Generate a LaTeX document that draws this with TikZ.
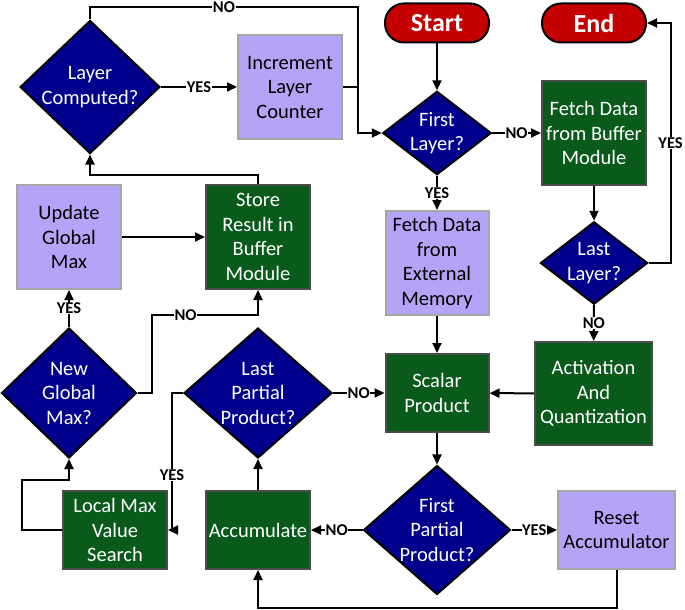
\documentclass[tikz,border=0pt]{standalone}
\usepackage{fontspec}
\setmainfont{Carlito}
\usetikzlibrary{shapes.geometric,arrows.meta}
\definecolor{navy}{RGB}{0,0,140}
\definecolor{leaf}{RGB}{10,90,28}
\definecolor{lilac}{RGB}{180,163,246}
\definecolor{brick}{RGB}{196,0,0}
\tikzset{%
  decision/.style = {shape=diamond, draw=black, fill=navy, text=white,%
                     align=center, inner sep=0pt},%
  greenbox/.style = {shape=rectangle, draw=black!70, fill=leaf, text=white,%
                     align=center, inner sep=2pt},%
  lilacbox/.style = {shape=rectangle, draw=black!35, fill=lilac,%
                     align=center, inner sep=2pt},%
  terminal/.style = {shape=rectangle, rounded corners=19pt, draw=black,%
                     fill=brick, text=white, minimum width=104pt,%
                     minimum height=39pt, font=\fontsize{26}{28}\selectfont\bfseries},%
  lbl/.style      = {fill=white, inner sep=0.5pt, font=\fontsize{16.5}{17}\selectfont\bfseries}%
}
\begin{document}
\begin{tikzpicture}[x=1pt,y=-1pt,line width=2pt,
		every node/.style = {font=\fontsize{20.5}{24.5}\selectfont},
		flow/.style = {-{Triangle[length=10pt,width=9pt]}}]
		\useasboundingbox (0,0) rectangle (685,610);
		\node [terminal] (start) at (437,23) {Start};
		\node [terminal] (end) at (594,23) {End};
		\node [decision, minimum width=136pt, minimum height=129pt, aspect=1.05] (lc) at (90,87) {Layer\\Computed?};
		\node [lilacbox, minimum width=104pt, minimum height=104pt] (inc) at (290,87) {Increment\\Layer\\Counter};
		\node [decision, minimum width=103pt, minimum height=79pt, aspect=1.3] (first) at (437,133) {First\\Layer?};
		\node [greenbox, minimum width=104pt, minimum height=104pt] (fetchbuf) at (594,133) {Fetch Data\\from Buffer\\Module};
		\node [lilacbox, minimum width=104pt, minimum height=104pt] (update) at (69,237) {Update\\Global\\Max};
		\node [greenbox, minimum width=104pt, minimum height=104pt] (store) at (258,237) {Store\\Result in\\Buffer\\Module};
		\node [lilacbox, minimum width=103pt, minimum height=104pt] (fetchext) at (437,263) {Fetch Data\\from\\External\\Memory};
		\node [decision, minimum width=103pt, minimum height=78pt, aspect=1.3] (last) at (594,263) {Last\\Layer?};
		\node [decision, minimum width=135pt, minimum height=130pt, aspect=1.04] (ngm) at (69,393) {New\\Global\\Max?};
		\node [decision, minimum width=148pt, minimum height=130pt, aspect=1.14] (lpp) at (258,393) {Last\\Partial\\Product?};
		\node [greenbox, minimum width=103pt, minimum height=78pt] (scalar) at (437,393) {Scalar\\Product};
		\node [greenbox, minimum width=117pt, minimum height=103pt] (act) at (593.5,393.5) {Activation\\And\\Quantization};
		\node [greenbox, minimum width=104pt, minimum height=78pt] (local) at (115,530) {Local Max\\Value\\Search};
		\node [greenbox, minimum width=104pt, minimum height=78pt] (acc) at (258,530) {Accumulate};
		\node [decision, minimum width=147pt, minimum height=129pt, aspect=1.14] (fpp) at (437,530) {First\\Partial\\Product?};
		\node [lilacbox, minimum width=117pt, minimum height=78pt] (reset) at (616.5,530) {Reset\\Accumulator};
		\draw[flow] (start) -- (first);
		\draw[flow] (first) -- node [lbl] {NO} (fetchbuf);
		\draw[flow] (fetchbuf) -- (last);
		\draw[flow] (last.east) -- ++(22,0) |- node [lbl, pos=0.25] {YES} (end.east);
		\draw[flow] (last) -- node [lbl] {NO} (act);
		\draw[flow] (act) -- (scalar);
		\draw[flow] (first) -- node [lbl] {YES} (fetchext);
		\draw[flow] (fetchext) -- (scalar);
		\draw[flow] (scalar) -- (fpp);
		\draw[flow] (fpp) -- node [lbl] {YES} (reset);
		\draw[flow] (fpp) -- node [lbl] {NO} (acc);
		\draw[flow] (reset.south) -- ++(0,38) -| (acc.south);
		\draw[flow] (acc) -- (lpp);
		\draw[flow] (lpp) -- node [lbl] {NO} (scalar);
		\draw[flow] (lpp.west) -- ++(-11,0) |- node [lbl, pos=0.3] {YES} (local.east);
		\draw[flow] (local.west) -- ++(-40,0) -- ++(0,-50) -| (ngm.south);
		\draw[flow] (ngm) -- node [lbl] {YES} (update);
		\draw[flow] (ngm.east) -- ++(14,0) -- ++(0,-78) -| node [lbl, pos=0.16] {NO} (store.south);
		\draw[flow] (update) -- (store);
		\draw[flow] (store.north) -- ++(0,-9) -| (lc.south);
		\draw[flow] (lc) -- node [lbl] {YES} (inc);
		\draw[flow] (lc.north) -- ++(0,-12) -- node [lbl] {NO} ++(268,0) |- (first.west);
		\draw (inc.east) -- ++(16,0);
\end{tikzpicture}
\end{document}
